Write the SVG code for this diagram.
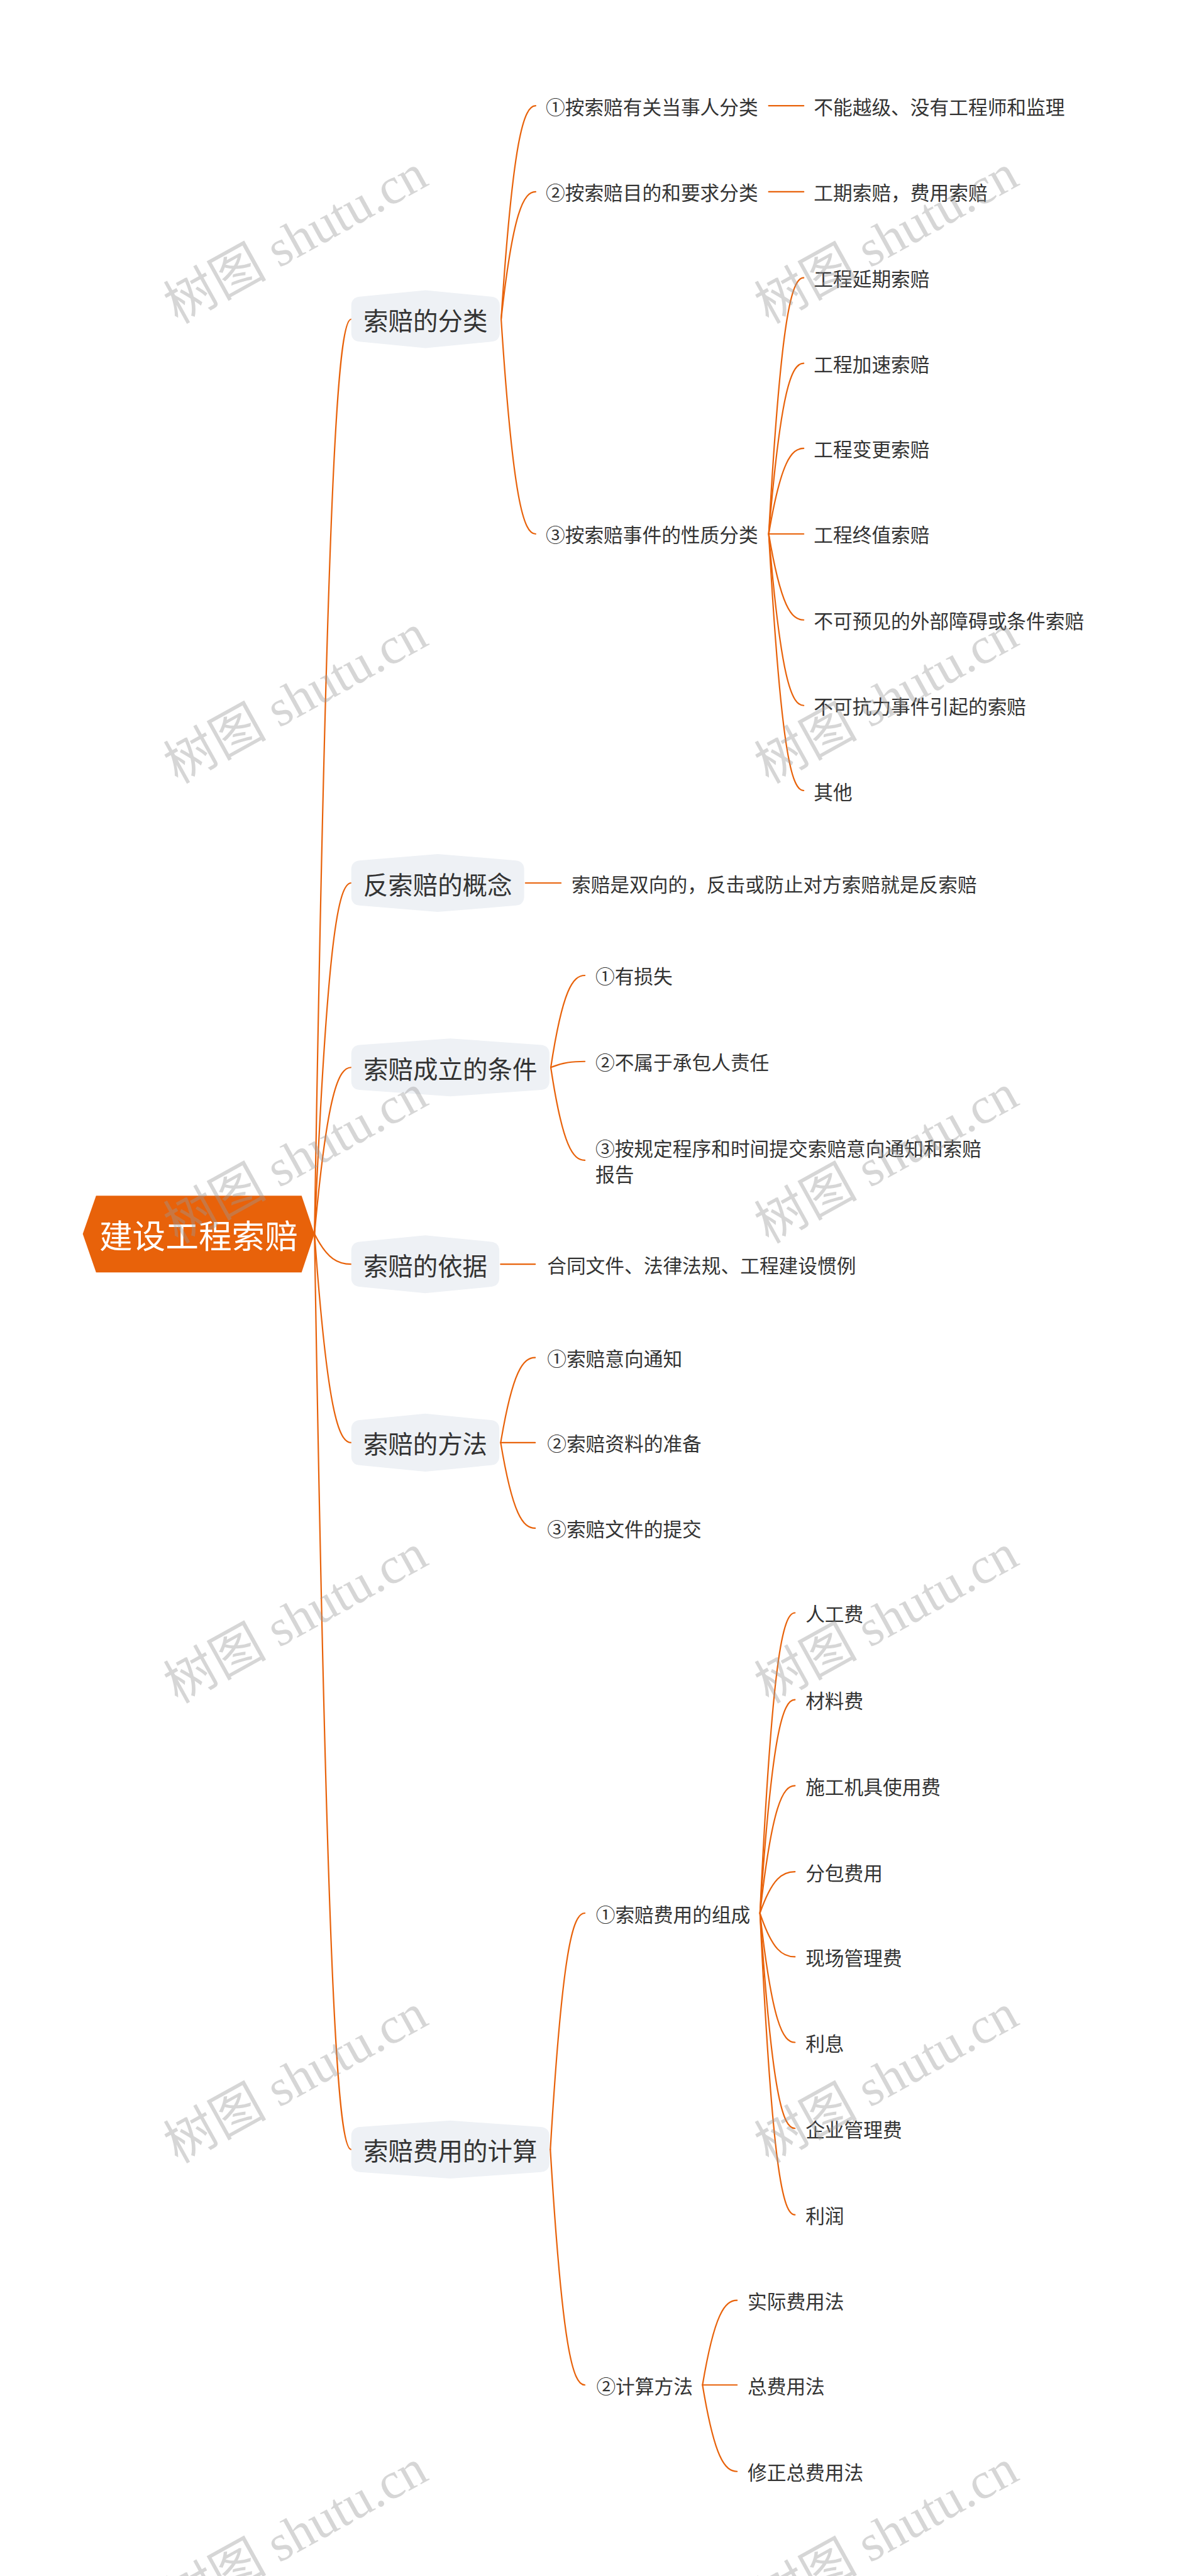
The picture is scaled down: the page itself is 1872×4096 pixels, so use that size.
<svg xmlns="http://www.w3.org/2000/svg" width="1872" height="4096" viewBox="0 0 1872 4096">
<style>
.c{fill:none;stroke:#E8620A;stroke-width:3;stroke-linecap:round}
.t{font-family:"Noto Sans CJK SC","Noto Sans",sans-serif;fill:#333333;font-size:42px;dominant-baseline:central}
.l1{font-size:54px;text-anchor:middle}
.n1{fill:#EEF1F5}
.rt{font-family:"Noto Sans CJK SC","Noto Sans",sans-serif;fill:#FFFFFF;font-size:72px;text-anchor:middle;dominant-baseline:central}
.wm{font-family:"Liberation Serif","Noto Sans CJK SC",serif;font-size:112px;fill:#999999;fill-opacity:0.4;text-anchor:middle;dominant-baseline:central}
</style>
<rect width="1872" height="4096" fill="#FFFFFF"/>
<g transform="scale(0.73125)">
<g id="connectors">
<path class="c" d="M684,2683 C712,992 736,694 764,694"/>
<path class="c" d="M684,2683 C712,2034.5 736,1920 764,1920"/>
<path class="c" d="M684,2683 C712,2375 736,2321 764,2321"/>
<path class="c" d="M684,2683 C712,2739 736,2749 764,2749"/>
<path class="c" d="M684,2683 C712,3069 736,3137 764,3137"/>
<path class="c" d="M684,2683 C712,4375 736,4674 764,4674"/>
<path class="c" d="M1090,694 C1116,300 1139,230 1165,230"/>
<path class="c" d="M1090,694 C1116,458.5 1139,417 1165,417"/>
<path class="c" d="M1090,694 C1116,1091 1139,1161 1165,1161"/>
<path class="c" d="M1672,230 L1748,230"/>
<path class="c" d="M1672,417 L1748,417"/>
<path class="c" d="M1672,1161 C1698.6,687.55 1721.4,604 1748,604"/>
<path class="c" d="M1672,1161 C1698.6,845.65 1721.4,790 1748,790"/>
<path class="c" d="M1672,1161 C1698.6,1002.9 1721.4,975 1748,975"/>
<path class="c" d="M1672,1161 L1748,1161"/>
<path class="c" d="M1672,1161 C1698.6,1319.95 1721.4,1348 1748,1348"/>
<path class="c" d="M1672,1161 C1698.6,1478.05 1721.4,1534 1748,1534"/>
<path class="c" d="M1672,1161 C1698.6,1635.3 1721.4,1719 1748,1719"/>
<path class="c" d="M1143,1920 L1220,1920"/>
<path class="c" d="M1198,2321 C1223.9,2151 1246.1,2121 1272,2121"/>
<path class="c" d="M1198,2321 C1223.9,2310 1246.1,2308 1272,2308"/>
<path class="c" d="M1198,2321 C1223.9,2492.7 1246.1,2523 1272,2523"/>
<path class="c" d="M1089,2749 L1164,2749"/>
<path class="c" d="M1089,3137 C1115.25,2979.75 1137.75,2952 1164,2952"/>
<path class="c" d="M1089,3137 L1164,3137"/>
<path class="c" d="M1089,3137 C1115.25,3295.1 1137.75,3323 1164,3323"/>
<path class="c" d="M1197,4674 C1223.25,4237.1 1245.75,4160 1272,4160"/>
<path class="c" d="M1197,4674 C1223.25,5109.2 1245.75,5186 1272,5186"/>
<path class="c" d="M1653,4160 C1679.6,3604.95 1702.4,3507 1729,3507"/>
<path class="c" d="M1653,4160 C1679.6,3765.6 1702.4,3696 1729,3696"/>
<path class="c" d="M1653,4160 C1679.6,3924.55 1702.4,3883 1729,3883"/>
<path class="c" d="M1653,4160 C1679.6,4083.5 1702.4,4070 1729,4070"/>
<path class="c" d="M1653,4160 C1679.6,4240.75 1702.4,4255 1729,4255"/>
<path class="c" d="M1653,4160 C1679.6,4398.85 1702.4,4441 1729,4441"/>
<path class="c" d="M1653,4160 C1679.6,4557.8 1702.4,4628 1729,4628"/>
<path class="c" d="M1653,4160 C1679.6,4717.6 1702.4,4816 1729,4816"/>
<path class="c" d="M1528,5186 C1554.25,5029.6 1576.75,5002 1603,5002"/>
<path class="c" d="M1528,5186 L1603,5186"/>
<path class="c" d="M1528,5186 C1554.25,5345.8 1576.75,5374 1603,5374"/>
</g>
<g id="root">
<polygon points="180,2683 209,2600 656,2600 684,2683 656,2767 209,2767" fill="#E8620A"/>
<text class="rt" x="432" y="2683">建设工程索赔</text>
</g>
<g id="n-fenlei">
<path class="n1" d="M764,665 Q764,647 782,645 L925.5,631 L1069,645 Q1087,647 1087,665 L1087,723 Q1087,741 1069,743 L925.5,757 L782,743 Q764,741 764,723 Z"/>
<text class="t l1" x="925.5" y="694">索赔的分类</text>
</g>
<g id="n-fansuopei">
<path class="n1" d="M764,1891 Q764,1873 782,1871 L952,1857 L1122,1871 Q1140,1873 1140,1891 L1140,1949 Q1140,1967 1122,1969 L952,1983 L782,1969 Q764,1967 764,1949 Z"/>
<text class="t l1" x="952" y="1920">反索赔的概念</text>
</g>
<g id="n-tiaojian">
<path class="n1" d="M764,2292 Q764,2274 782,2272 L979.5,2258 L1177,2272 Q1195,2274 1195,2292 L1195,2350 Q1195,2368 1177,2370 L979.5,2384 L782,2370 Q764,2368 764,2350 Z"/>
<text class="t l1" x="979.5" y="2321">索赔成立的条件</text>
</g>
<g id="n-yiju">
<path class="n1" d="M764,2720 Q764,2702 782,2700 L925,2686 L1068,2700 Q1086,2702 1086,2720 L1086,2778 Q1086,2796 1068,2798 L925,2812 L782,2798 Q764,2796 764,2778 Z"/>
<text class="t l1" x="925" y="2749">索赔的依据</text>
</g>
<g id="n-fangfa">
<path class="n1" d="M764,3108 Q764,3090 782,3088 L925,3074 L1068,3088 Q1086,3090 1086,3108 L1086,3166 Q1086,3184 1068,3186 L925,3200 L782,3186 Q764,3184 764,3166 Z"/>
<text class="t l1" x="925" y="3137">索赔的方法</text>
</g>
<g id="n-jisuan">
<path class="n1" d="M764,4645 Q764,4627 782,4625 L979.5,4611 L1177,4625 Q1195,4627 1195,4645 L1195,4703 Q1195,4721 1177,4723 L979.5,4737 L782,4723 Q764,4721 764,4703 Z"/>
<text class="t l1" x="979.5" y="4674">索赔费用的计算</text>
</g>
<g id="n-fl1"><text class="t" x="1187" y="230">①按索赔有关当事人分类</text></g>
<g id="n-fl1a"><text class="t" x="1770" y="230">不能越级、没有工程师和监理</text></g>
<g id="n-fl2"><text class="t" x="1187" y="417">②按索赔目的和要求分类</text></g>
<g id="n-fl2a"><text class="t" x="1770" y="417">工期索赔，费用索赔</text></g>
<g id="n-fl3"><text class="t" x="1187" y="1161">③按索赔事件的性质分类</text></g>
<g id="n-fl3a"><text class="t" x="1770" y="604">工程延期索赔</text></g>
<g id="n-fl3b"><text class="t" x="1770" y="790">工程加速索赔</text></g>
<g id="n-fl3c"><text class="t" x="1770" y="975">工程变更索赔</text></g>
<g id="n-fl3d"><text class="t" x="1770" y="1161">工程终值索赔</text></g>
<g id="n-fl3e"><text class="t" x="1770" y="1348">不可预见的外部障碍或条件索赔</text></g>
<g id="n-fl3f"><text class="t" x="1770" y="1534">不可抗力事件引起的索赔</text></g>
<g id="n-fl3g"><text class="t" x="1770" y="1719">其他</text></g>
<g id="n-fs1"><text class="t" x="1243" y="1920">索赔是双向的，反击或防止对方索赔就是反索赔</text></g>
<g id="n-tj1"><text class="t" x="1295" y="2121">①有损失</text></g>
<g id="n-tj2"><text class="t" x="1295" y="2308">②不属于承包人责任</text></g>
<g id="n-tj3"><text class="t" x="1295" y="2495">③按规定程序和时间提交索赔意向通知和索赔</text><text class="t" x="1295" y="2551">报告</text></g>
<g id="n-yj1"><text class="t" x="1190" y="2749">合同文件、法律法规、工程建设惯例</text></g>
<g id="n-ff1"><text class="t" x="1190" y="2952">①索赔意向通知</text></g>
<g id="n-ff2"><text class="t" x="1190" y="3137">②索赔资料的准备</text></g>
<g id="n-ff3"><text class="t" x="1190" y="3323">③索赔文件的提交</text></g>
<g id="n-js1"><text class="t" x="1296" y="4160">①索赔费用的组成</text></g>
<g id="n-js1a"><text class="t" x="1752" y="3507">人工费</text></g>
<g id="n-js1b"><text class="t" x="1752" y="3696">材料费</text></g>
<g id="n-js1c"><text class="t" x="1752" y="3883">施工机具使用费</text></g>
<g id="n-js1d"><text class="t" x="1752" y="4070">分包费用</text></g>
<g id="n-js1e"><text class="t" x="1752" y="4255">现场管理费</text></g>
<g id="n-js1f"><text class="t" x="1752" y="4441">利息</text></g>
<g id="n-js1g"><text class="t" x="1752" y="4628">企业管理费</text></g>
<g id="n-js1h"><text class="t" x="1752" y="4816">利润</text></g>
<g id="n-js2"><text class="t" x="1297" y="5186">②计算方法</text></g>
<g id="n-js2a"><text class="t" x="1626" y="5002">实际费用法</text></g>
<g id="n-js2b"><text class="t" x="1626" y="5186">总费用法</text></g>
<g id="n-js2c"><text class="t" x="1626" y="5374">修正总费用法</text></g>
<g id="watermarks">
<text class="wm" transform="translate(643,520) rotate(-29)">树图 shutu.cn</text>
<text class="wm" transform="translate(1928,520) rotate(-29)">树图 shutu.cn</text>
<text class="wm" transform="translate(643,1520) rotate(-29)">树图 shutu.cn</text>
<text class="wm" transform="translate(1928,1520) rotate(-29)">树图 shutu.cn</text>
<text class="wm" transform="translate(643,2520) rotate(-29)">树图 shutu.cn</text>
<text class="wm" transform="translate(1928,2520) rotate(-29)">树图 shutu.cn</text>
<text class="wm" transform="translate(643,3520) rotate(-29)">树图 shutu.cn</text>
<text class="wm" transform="translate(1928,3520) rotate(-29)">树图 shutu.cn</text>
<text class="wm" transform="translate(643,4520) rotate(-29)">树图 shutu.cn</text>
<text class="wm" transform="translate(1928,4520) rotate(-29)">树图 shutu.cn</text>
<text class="wm" transform="translate(643,5510) rotate(-29)">树图 shutu.cn</text>
<text class="wm" transform="translate(1928,5510) rotate(-29)">树图 shutu.cn</text>
</g>
</g>
</svg>
